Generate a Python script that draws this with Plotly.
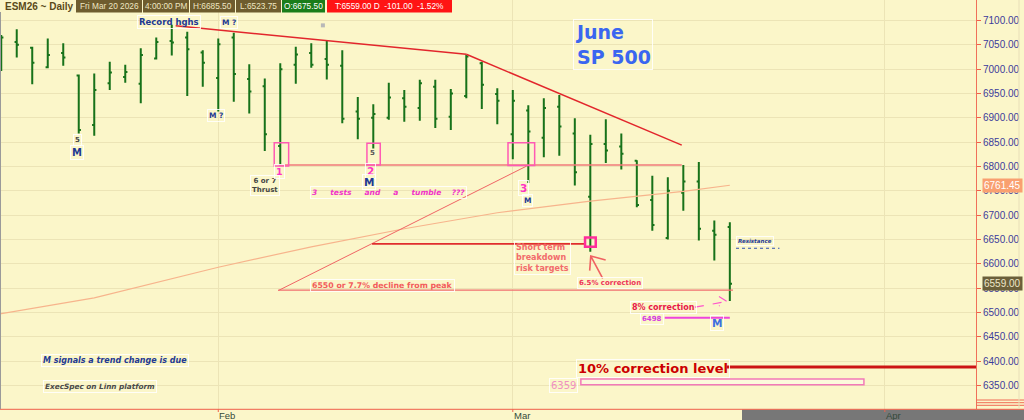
import plotly.graph_objects as go

# ---------------- data ----------------
dates = ["2026-01-12","2026-01-13","2026-01-14","2026-01-15","2026-01-16",
         "2026-01-20","2026-01-21","2026-01-22","2026-01-23",
         "2026-01-26","2026-01-27","2026-01-28","2026-01-29","2026-01-30",
         "2026-02-02","2026-02-03","2026-02-04","2026-02-05","2026-02-06",
         "2026-02-09","2026-02-10","2026-02-11","2026-02-12","2026-02-13",
         "2026-02-17","2026-02-18","2026-02-19","2026-02-20",
         "2026-02-23","2026-02-24","2026-02-25","2026-02-26","2026-02-27",
         "2026-03-02","2026-03-03","2026-03-04","2026-03-05","2026-03-06",
         "2026-03-09","2026-03-10","2026-03-11","2026-03-12","2026-03-13",
         "2026-03-16","2026-03-17","2026-03-18","2026-03-19","2026-03-20"]
opens  = [7050,7056,7044,7004,7033,6987,6885,6971,6984,6970,7022,7058,7065,7034,
          6982,7065,6980,6965,6842,7009,7033,7021,7007,6913,6900,6900,6940,6920,
          6964,6902,6945,7012,6949,6866,6915,6859,6923,6868,6738,6846,6841,6812,
          6731,6653,6746,6769,6668,6675.5]
highs  = [7070,7082,7046,7063,7053,6989,6991,7015,7009,7043,7065,7091,7077,7039,
          7063,7075,7010,6981,7012,7046,7053,7058,7039,6943,6928,6972,6957,6978,
          6978,6959,7029,7015,6961,6957,6926,6940,6947,6899,6865,6897,6868,6813,
          6781,6778,6803,6809,6689,6685.5]
lows   = [6996,7024,6969,7002,7007,6868,6863,6957,6972,6930,7020,7028,6945,6964,
          6913,6933,6909,6832,6803,6970,7003,6979,6889,6856,6837,6896,6892,6894,
          6879,6875,6940,6918,6887,6815,6766,6819,6822,6761,6625,6807,6794,6716,
          6668,6650,6709,6648,6607,6523.75]
closes = [7065,7050,7013,7029,7024,6875,6957,6993,6994,7029,7056,7055,7041,7013,
          7051,6990,6954,6866,7000,7030,7009,7009,6898,6898,6908,6942,6923,6971,
          6898,6950,7026,6968,6935,6935,6872,6920,6882,6788,6846,6833,6826,6721,
          6680,6750,6769,6672,6660,6559]
first_feb = dates.index("2026-02-02")
bar_pos = [i - first_feb for i in range(len(dates))]

# moving average (bar position, value)
ma_pos = [-14.1, -8, 0, 6, 12, 18, 24, 30, 33]
ma_val = [6497, 6530, 6593, 6635, 6672, 6705, 6729, 6749, 6761.45]

month_labels = ["Feb", "Mar", "Apr"]
month_pos = [0, 19, 43]

price_ticks = [6350 + 50 * k for k in range(16)]

peak_line = [(-2.75, 7089), (16, 7030.5), (29.9, 6844)]
support_3tests = 6803
target_short = 6641
target_7pct = 6546
level_10pct = 6388
low_6498 = 6489

# ---------------- figure ----------------
W, H = 1024, 420
BG = "#FBF6C9"
GRID = "#ECE4B6"
fig = go.Figure()

fig.add_trace(go.Scatter(x=ma_pos, y=ma_val, mode="lines",
                         line=dict(color="#F7B48C", width=1.2),
                         hoverinfo="skip", showlegend=False))

fig.add_trace(go.Ohlc(x=bar_pos, open=opens, high=highs, low=lows, close=closes,
                      increasing=dict(line=dict(color="#17721A", width=2)),
                      decreasing=dict(line=dict(color="#17721A", width=2)),
                      tickwidth=0.14, hoverinfo="skip", showlegend=False))

fig.add_trace(go.Scatter(x=[6.75], y=[7090], mode="markers",
                         marker=dict(symbol="square", size=4, color="#B8B8B8"),
                         hoverinfo="skip", showlegend=False))

XMAX = 48.88
shapes = []
def seg(x0, y0, x1, y1, color, width=1.5, dash="solid"):
    shapes.append(dict(type="line", xref="x", yref="y", x0=x0, y0=y0, x1=x1, y1=y1,
                       line=dict(color=color, width=width, dash=dash)))
def box(x0, y0, x1, y1, color, width=1.5, fill="rgba(0,0,0,0)"):
    shapes.append(dict(type="rect", xref="x", yref="y", x0=x0, y0=y0, x1=x1, y1=y1,
                       line=dict(color=color, width=width), fillcolor=fill))

for (a, b) in zip(peak_line[:-1], peak_line[1:]):
    seg(a[0], a[1], b[0], b[1], "#E2262C", 1.5)
seg(3.9, support_3tests, 29.9, support_3tests, "#F07A7A", 1.5)
seg(3.87, 6545, 19.9, 6801, "#EF6464", 1.0)
seg(3.87, target_7pct, 33.2, target_7pct, "#F06E6E", 1.2)
seg(9.92, target_short, 23.7, target_short, "#E02D2D", 1.8)
seg(28.8, low_6498, 33.0, low_6498, "#EE44DD", 2)
seg(33.4, 6632, 36.2, 6632, "#3050B0", 1, "dot")
seg(32.8, level_10pct, XMAX, level_10pct, "#CC1414", 3)

box(3.61, 6801, 4.54, 6849, "#FF5AB4")
box(9.59, 6803, 10.45, 6848, "#FF5AB4")
box(18.69, 6802, 20.41, 6849, "#FF5AB4")
box(23.66, 6635, 24.35, 6654, "#FF2D9B", 2.5)
box(23.39, 6351.7, 41.65, 6363.4, "#F27AB8", 1.5, "rgba(255,255,255,0.35)")

shapes.append(dict(type="path", xref="x", yref="y",
                   path="M 24.8,6570 L 24.03,6616 M 23.96,6586 L 24.03,6616 L 24.99,6608",
                   line=dict(color="#F06262", width=1.6)))
shapes.append(dict(type="path", xref="x", yref="y",
                   path="M 30.75,6511 L 32.82,6522.6 M 32.3,6533 L 32.82,6522.6 L 32.3,6513.5",
                   line=dict(color="#FF55CC", width=1.2, dash="dash")))

def px(x): return x / W
def py(y): return 1 - y / H
shapes.append(dict(type="rect", xref="paper", yref="paper", x0=px(742), x1=1,
                   y0=0, y1=py(409.5), line=dict(width=0), fillcolor="#777777", layer="below"))
shapes.append(dict(type="line", xref="paper", yref="paper", x0=0, x1=1, y0=py(409.3), y1=py(409.3),
                   line=dict(color="#F0604A", width=1)))
for yy in (400, 402.7, 405.3):
    shapes.append(dict(type="line", xref="paper", yref="paper", x0=px(976), x1=1, y0=py(yy), y1=py(yy),
                       line=dict(color="#F06A55", width=1)))
shapes.append(dict(type="line", xref="paper", yref="paper", x0=px(0.5), x1=px(0.5), y0=py(409), y1=py(12),
                   line=dict(color="#9A9A9A", width=1)))
shapes.append(dict(type="line", xref="paper", yref="paper", x0=px(1019), x1=px(1019), y0=py(409), y1=1,
                   line=dict(color="#E8DFB8", width=1)))
for mp in month_pos:
    shapes.append(dict(type="line", xref="x", yref="paper", x0=mp, x1=mp, y0=py(409.3), y1=py(412),
                       line=dict(color="#F0604A", width=1)))

ann = []
def lab(text, x, y, size=9, color="#1F3A93", bold=True, italic=False, xanchor="center",
        border=True, family="DejaVu Sans", align="center"):
    t = text
    if bold: t = "<b>" + t + "</b>"
    if italic: t = "<i>" + t + "</i>"
    ann.append(dict(x=x, y=y, xref="x", yref="y", text=t, showarrow=False, xanchor=xanchor,
                    yanchor="middle", align=align,
                    font=dict(size=size, color=color, family=family),
                    bordercolor="rgba(255,255,255,0.85)" if border else "rgba(0,0,0,0)",
                    borderwidth=1, borderpad=1))

lab("Record hghs", -3.2, 7097, 8.5)
lab("M ?", 0.7, 7095, 7.5)
lab("M ?", -0.15, 6904, 7.5)
lab("5", -9.1, 6854.5, 7, "#444444")
lab("M", -9.1, 6828, 10)
lab("6 or 7<br>Thrust", 3.01, 6761, 7, "#444444")
lab("1", 3.92, 6789, 9.5, "#FF33C4")
lab("2", 9.83, 6791, 10.5, "#FF33C4")
lab("M", 9.7, 6768, 10.5)
lab("5", 9.95, 6828, 7, "#555555", border=False)
lab("3&nbsp;&nbsp;&nbsp;&nbsp;&nbsp;tests&nbsp;&nbsp;&nbsp;&nbsp;&nbsp;and&nbsp;&nbsp;&nbsp;&nbsp;&nbsp;a&nbsp;&nbsp;&nbsp;&nbsp;&nbsp;tumble&nbsp;&nbsp;&nbsp;&nbsp;???",
    5.92, 6746, 7.5, "#F033C8", True, True, "left")
lab("3", 19.66, 6756, 10.5, "#FF33C4")
lab("M", 19.92, 6731, 7.5)
lab("June<br>SP 500", 22.9, 7050, 19, "#3A66F0", xanchor="left", align="left")
lab("Short term<br>breakdown<br>risk targets", 19.1, 6612, 8, "#F26B6B", True, False, "left", align="left")
lab("6.5% correction", 25.25, 6561, 7, "#EE3358")
lab("8% correction", 28.7, 6511, 8, "#E8184A")
lab("6498", 27.98, 6487, 7, "#D43BE0")
lab("M", 32.2, 6478.5, 10.5, "#3D6FE0")
lab("Resistance", 34.6, 6646, 5.5, "#1F3A93", True, True)
lab("6550 or 7.7% decline from peak", 10.6, 6555, 7.8, "#F25C5C", True)
lab("10% correction level", 23.08, 6384, 13, "#CC0000", xanchor="left")
lab("6359", 22.24, 6351, 10, "#F08FC0", False)
lab("M signals a trend change is due", -11.45, 6402, 8, "#1F3A93", True, True, "left")
lab("ExecSpec on Linn platform", -11.3, 6347.6, 7.3, "#4A4A4A", True, True, "left")

for mp, ml in zip(month_pos, month_labels):
    ann.append(dict(x=mp, y=py(415), xref="x", yref="paper", xanchor="left", yanchor="middle",
                    text=ml, showarrow=False, xshift=-1,
                    font=dict(size=9.5, color="#344A3A", family="Liberation Sans")))

prev_close = closes[-2]
chg = closes[-1] - prev_close
header = [
    ("Fri Mar 20 2026", 76, 142, "#6E5C2E", "#EFE6C2"),
    ("4:00:00 PM", 143, 189, "#6E5C2E", "#EFE6C2"),
    ("H:%.2f" % highs[-1], 190, 235, "#6E5C2E", "#EFE6C2"),
    ("L:%.2f" % lows[-1], 236, 281, "#6E5C2E", "#EFE6C2"),
    ("O:%.2f" % opens[-1], 282, 325, "#1A7D1A", "#FFFFFF"),
    ("T:%.2f D  %.2f  %.2f%%" % (closes[-1], chg, chg / prev_close * 100), 327, 452, "#FF1414", "#FFFFFF"),
]
ann.append(dict(x=px(3), y=py(6.5), xref="paper", yref="paper", xanchor="left", yanchor="middle",
                text="<b>ESM26 ~ Daily</b>", showarrow=False,
                font=dict(size=10, color="#5A4A1A", family="Liberation Sans")))
for text, x0, x1, bg, fc in header:
    shapes.append(dict(type="rect", xref="paper", yref="paper", x0=px(x0), x1=px(x1),
                       y0=py(12.5), y1=py(0), line=dict(width=0), fillcolor=bg))
    ann.append(dict(x=px((x0 + x1) / 2), y=py(6.5), xref="paper", yref="paper",
                    xanchor="center", yanchor="middle", text=text.replace("  ", "&nbsp;&nbsp;"),
                    showarrow=False, borderpad=0,
                    font=dict(size=8.3, color=fc, family="Liberation Sans")))

for val, bg, fc in [(ma_val[-1], "#F9A070", "#FFFFFF"), (closes[-1], "#6B5F3A", "#EDE6C8")]:
    ann.append(dict(x=px(982), y=val, xref="paper", yref="y", xanchor="left", yanchor="middle",
                    text="%.2f" % val, showarrow=False, bgcolor=bg, borderpad=1,
                    font=dict(size=10, color=fc, family="Liberation Sans")))

fig.update_layout(
    width=W, height=H, margin=dict(l=0, r=0, t=0, b=0),
    paper_bgcolor=BG, plot_bgcolor=BG, showlegend=False,
    shapes=shapes, annotations=ann,
    xaxis=dict(domain=[0, 976 / W], range=[-14.08, XMAX], rangeslider=dict(visible=False),
               tickvals=month_pos, showticklabels=False,
               showgrid=True, gridcolor=GRID, zeroline=False, showline=False, ticks=""),
    yaxis=dict(domain=[11 / H, 1], range=[6301.7, 7142.1], side="right",
               tickvals=price_ticks, tickformat=".2f", showgrid=True, gridcolor=GRID,
               zeroline=False, showline=True, linecolor="#F0705A", linewidth=1,
               ticks="outside", ticklen=4, tickcolor="#F0604A",
               tickfont=dict(size=10, color="#3B3B9B", family="Liberation Sans")),
)

fig.write_html("out.html", config={"displayModeBar": False},
               post_script="document.body.style.margin='0px';document.body.style.overflow='hidden';")
